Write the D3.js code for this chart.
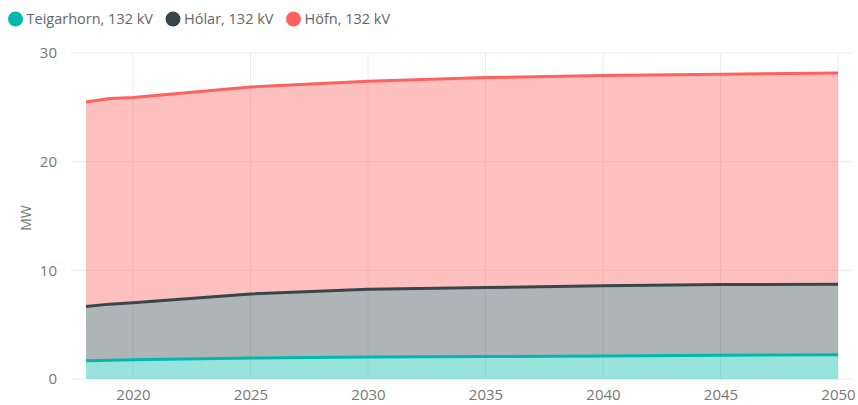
<!DOCTYPE html>
<html>
<head>
<meta charset="utf-8">
<script src="https://cdn.jsdelivr.net/npm/d3@7"></script>
<style>
  body { margin: 0; background: #fff; }
  svg text { font-family: "Segoe UI", "Open Sans", sans-serif; }
</style>
</head>
<body>
<div id="chart"></div>
<script>
// years and stacked series (MW)
var years = [2018, 2019, 2020, 2025, 2030, 2035, 2040, 2045, 2050];
var teigarhorn = [1.68, 1.72, 1.77, 1.93, 2.02, 2.07, 2.12, 2.18, 2.23];
var holar = [4.99, 5.17, 5.24, 5.90, 6.25, 6.34, 6.45, 6.51, 6.50];
var hofn = [18.83, 18.92, 18.89, 19.04, 19.13, 19.33, 19.35, 19.35, 19.43];

var seriesNames = ["Teigarhorn, 132 kV", "Hólar, 132 kV", "Höfn, 132 kV"];
var seriesColors = ["#01B8AA", "#374649", "#FD625E"];
var xTicks = [2020, 2025, 2030, 2035, 2040, 2045, 2050];
var yTicks = [0, 10, 20, 30];

var width = 858, height = 405;

var svg = d3.select("#chart")
  .append("svg")
  .attr("width", width)
  .attr("height", height)

var x = d3.scaleLinear().domain([2018, 2050]).range([86, 838])
var y = d3.scaleLinear().domain([0, 30]).range([379, 53])

// gridlines
var grid = svg.append("g")
grid.selectAll(".hgrid")
  .data(yTicks)
  .enter()
  .append("line")
  .attr("x1", 71)
  .attr("x2", 852)
  .attr("y1", function(d){ return y(d) })
  .attr("y2", function(d){ return y(d) })
  .style("stroke", "#ececec")
  .style("stroke-width", 1)

grid.selectAll(".vgrid")
  .data(xTicks)
  .enter()
  .append("line")
  .attr("x1", function(d){ return x(d) })
  .attr("x2", function(d){ return x(d) })
  .attr("y1", y(30))
  .attr("y2", y(0))
  .style("stroke", "#ececec")
  .style("stroke-width", 1)

// stack the data
var rows = years.map(function(yr, i){
  return { year: yr, a: teigarhorn[i], b: holar[i], c: hofn[i] }
})
var stacked = d3.stack().keys(["a", "b", "c"])(rows)

var area = d3.area()
  .x(function(d){ return x(d.data.year) })
  .y0(function(d){ return y(d[0]) })
  .y1(function(d){ return y(d[1]) })

var line = d3.line()
  .x(function(d){ return x(d.data.year) })
  .y(function(d){ return y(d[1]) })

svg.append("g")
  .selectAll("path")
  .data(stacked)
  .enter()
  .append("path")
  .attr("d", area)
  .attr("fill", function(d, i){ return seriesColors[i] })
  .attr("fill-opacity", 0.4)

svg.append("g")
  .selectAll("path")
  .data(stacked)
  .enter()
  .append("path")
  .attr("d", line)
  .attr("fill", "none")
  .attr("stroke", function(d, i){ return seriesColors[i] })
  .attr("stroke-width", 3)
  .attr("stroke-linejoin", "round")

// axes
var xAxis = svg.append("g")
  .attr("transform", "translate(0," + 379 + ")")
  .call(d3.axisBottom(x).tickValues(xTicks).tickFormat(d3.format("d")).tickSize(0).tickPadding(10))
xAxis.select(".domain").remove()
xAxis.selectAll("text")
  .style("font-size", "15px")
  .style("fill", "#777")
  .style("font-family", "'Segoe UI', 'Open Sans', sans-serif")

var yAxis = svg.append("g")
  .attr("transform", "translate(57,0)")
  .call(d3.axisLeft(y).tickValues(yTicks).tickSize(0).tickPadding(0))
yAxis.select(".domain").remove()
yAxis.selectAll("text")
  .style("font-size", "15px")
  .style("fill", "#777")
  .style("font-family", "'Segoe UI', 'Open Sans', sans-serif")

svg.append("text")
  .attr("transform", "translate(31," + (y(15) + 2) + ") rotate(-90)")
  .attr("text-anchor", "middle")
  .style("font-size", "14px")
  .style("fill", "#777")
  .text("MW")

// legend
var legend = svg.append("g")
var lx = 15.5
seriesNames.forEach(function(name, i){
  legend.append("circle")
    .attr("cx", lx)
    .attr("cy", 19)
    .attr("r", 7.5)
    .attr("fill", seriesColors[i])
  var t = legend.append("text")
    .attr("x", lx + 11)
    .attr("y", 24)
    .style("font-size", "14.5px")
    .style("fill", "#666")
    .text(name)
  lx = lx + 11 + t.node().getComputedTextLength() + 20
})
</script>
</body>
</html>
